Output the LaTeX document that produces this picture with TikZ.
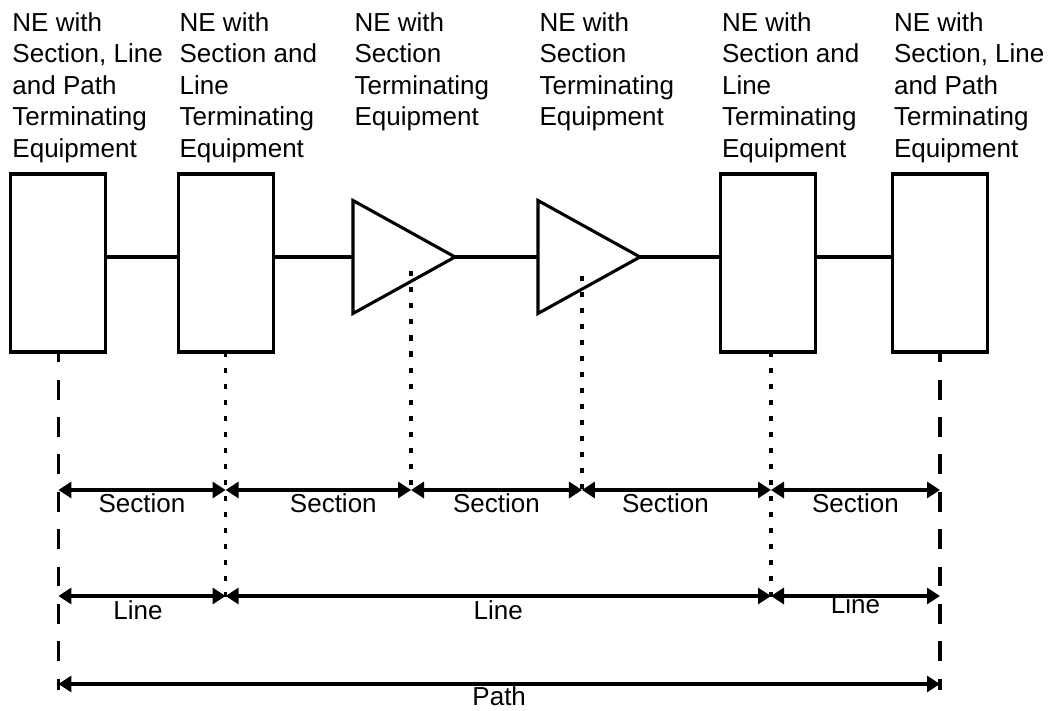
\documentclass[tikz,border=0pt]{standalone}
\usepackage{fontspec}
\setmainfont{Liberation Sans}
\usetikzlibrary{arrows.meta, shapes.geometric, calc}

\begin{document}
\begin{tikzpicture}[
  >={Triangle[length=0.325cm, width=0.4cm]}, line width=2.2pt,
  ne/.style={draw, minimum width=2.375cm, minimum height=4.45cm,
             inner sep=0pt, outer sep=0pt},
  amp/.style={draw, isosceles triangle, isosceles triangle stretches,
              minimum width=2.825cm, minimum height=2.55cm,
              inner sep=0pt, outer sep=0pt, anchor=west},
  head/.style={font=\fontsize{18.5pt}{22.4pt}\selectfont, align=left,
               inner sep=0pt, anchor=north west},
  lab/.style={font=\fontsize{18.5pt}{22.4pt}\selectfont, inner sep=0pt, anchor=base},
  dashguide/.style={dash pattern=on 14.2pt off 12.4pt, dash phase=7pt},
  dotguide/.style={dash pattern=on 3.6pt off 7.8pt},
  dim/.style={<->}
]
\useasboundingbox (0,0) rectangle (26.225,17.775);

%% Reference levels
\coordinate (bus) at (0,11.35);
\coordinate (top) at (0,17.5);
\coordinate (rowS) at (0,5.525);
\coordinate (rowL) at (0,2.875);
\coordinate (rowP) at (0,0.675);
\coordinate (dashend) at (0,0.525);
\coordinate (dotend) at (0,2.775);

%% Network elements and regenerators
\foreach \nm/\x in {ne1/1.46, ne2/5.64, ne5/19.2, ne6/23.5}{
  \node[ne] (\nm) at (\x,11.2) {};
}
\node[amp] (amp1) at (8.825,11.35) {};
\node[amp] (amp2) at (13.45,11.35) {};

%% Captions
\foreach \nm/\txt in {ne1/{NE with\\Section, Line\\and Path\\Terminating\\Equipment},
                      ne2/{NE with\\Section and\\Line\\Terminating\\Equipment},
                      amp1/{NE with\\Section\\Terminating\\Equipment},
                      amp2/{NE with\\Section\\Terminating\\Equipment},
                      ne5/{NE with\\Section and\\Line\\Terminating\\Equipment},
                      ne6/{NE with\\Section, Line\\and Path\\Terminating\\Equipment}}{
  \node[head] (\nm-cap) at (\nm.west |- top) {\txt};
}

%% Main line
\draw (ne1.east |- bus) -- (ne2.west |- bus);
\draw (ne2.east |- bus) -- (amp1.west);
\draw (amp1.east) -- (amp2.west);
\draw (amp2.east) -- (ne5.west |- bus);
\draw (ne5.east |- bus) -- (ne6.west |- bus);

%% Guide lines
\draw[dashguide] (ne1.south) -- (ne1.south |- dashend);
\draw[dashguide] (ne6.south) -- (ne6.south |- dashend);
\draw[dotguide] (ne2.south) -- (ne2.south |- dotend);
\draw[dotguide] ([xshift=0.075cm]ne5.south) -- ([xshift=0.075cm]ne5.south |- dotend);
\coordinate (tap1) at ($(amp1.east)!0.431!(amp1.south west)$);
\coordinate (tap2) at ($(amp2.east)!0.569!(amp2.south west)$);
\coordinate (tap3) at ([xshift=0.075cm]ne5.south);
\draw[dotguide] (tap1) -- (tap1 |- rowS);
\draw[dotguide] (tap2) -- (tap2 |- rowS);

%% Section spans
\foreach \a/\b/\dx [count=\i] in {ne1.south/ne2.south/0, ne2.south/tap1/0.375,
                                  tap1/tap2/0, tap2/tap3/-0.275, tap3/ne6.south/0}{
  \draw[dim] (\a |- rowS) -- (\b |- rowS)
    node[lab, midway, xshift=\dx cm, yshift=-0.575cm] (sec\i) {Section};
}

%% Line spans
\draw[dim] (ne1.south |- rowL) -- (ne2.south |- rowL)
  node[lab, midway, xshift=-0.1cm, yshift=-0.6cm] (line1) {Line};
\draw[dim] (ne2.south |- rowL) -- (tap3 |- rowL)
  node[lab, midway, yshift=-0.6cm] (line2) {Line};
\draw[dim] (tap3 |- rowL) -- (ne6.south |- rowL)
  node[lab, midway, yshift=-0.45cm] (line3) {Line};

%% Path span
\draw[dim] (ne1.south |- rowP) -- (ne6.south |- rowP)
  node[lab, midway, yshift=-0.55cm] (path) {Path};
\end{tikzpicture}
\end{document}
